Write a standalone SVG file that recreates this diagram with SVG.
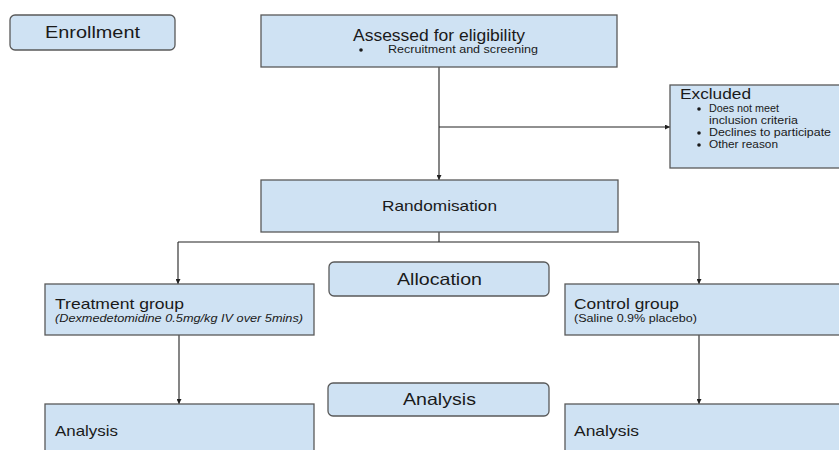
<svg xmlns="http://www.w3.org/2000/svg" width="839" height="450" viewBox="0 0 839 450">
<style>
.box{fill:#cfe2f3;stroke:#595959;stroke-width:1.3}
.t{font-family:"Liberation Sans",Arial,sans-serif;fill:#1a1a1a}
.ln{stroke:#222;stroke-width:1.1;fill:none}
</style>
<defs>
<marker id="ah" viewBox="0 0 8 8" refX="8" refY="4" markerWidth="5" markerHeight="5" orient="auto" markerUnits="userSpaceOnUse">
<path d="M0,0 L8,4 L0,8 z" fill="#222"/>
</marker>
</defs>
<rect width="839" height="450" fill="#fff"/>
<g id="connectors">
<path class="ln" d="M439,67 V180" marker-end="url(#ah)"/>
<path class="ln" d="M439,127 H670" marker-end="url(#ah)"/>
<path class="ln" d="M439,232 V242"/>
<path class="ln" d="M178,242 H699"/>
<path class="ln" d="M178,242 V284" marker-end="url(#ah)"/>
<path class="ln" d="M699,242 V284" marker-end="url(#ah)"/>
<path class="ln" d="M179,335 V404" marker-end="url(#ah)"/>
<path class="ln" d="M699,335 V404" marker-end="url(#ah)"/>
</g>
<g id="enrollment">
<rect class="box" x="10" y="15" width="165" height="35" rx="5"/>
<text class="t" x="45" y="38" font-size="16" textLength="95" lengthAdjust="spacingAndGlyphs">Enrollment</text>
</g>
<g id="assessed">
<rect class="box" x="261" y="15" width="356" height="52"/>
<text class="t" x="353" y="41" font-size="16" textLength="172" lengthAdjust="spacingAndGlyphs">Assessed for eligibility</text>
<circle cx="361" cy="50" r="1.8" fill="#1a1a1a"/>
<text class="t" x="388" y="53" font-size="10.5" textLength="150" lengthAdjust="spacingAndGlyphs">Recruitment and screening</text>
</g>
<g id="excluded">
<rect class="box" x="670" y="85" width="170" height="83"/>
<text class="t" x="680" y="99" font-size="14" textLength="71" lengthAdjust="spacingAndGlyphs">Excluded</text>
<g class="t" font-size="10.5">
<circle cx="699" cy="109" r="1.8" fill="#1a1a1a"/>
<text x="709" y="112" textLength="70" lengthAdjust="spacingAndGlyphs">Does not meet</text>
<text x="709" y="124" textLength="89" lengthAdjust="spacingAndGlyphs">inclusion criteria</text>
<circle cx="699" cy="133" r="1.8" fill="#1a1a1a"/>
<text x="709" y="136" textLength="122" lengthAdjust="spacingAndGlyphs">Declines to participate</text>
<circle cx="699" cy="145" r="1.8" fill="#1a1a1a"/>
<text x="709" y="148" textLength="69" lengthAdjust="spacingAndGlyphs">Other reason</text>
</g>
</g>
<g id="randomisation">
<rect class="box" x="261" y="180" width="357" height="52"/>
<text class="t" x="382" y="211" font-size="14.5" textLength="115" lengthAdjust="spacingAndGlyphs">Randomisation</text>
</g>
<g id="allocation">
<rect class="box" x="329" y="262" width="220" height="34" rx="5"/>
<text class="t" x="397" y="285" font-size="16.5" textLength="85" lengthAdjust="spacingAndGlyphs">Allocation</text>
</g>
<g id="treatment">
<rect class="box" x="45" y="284" width="269" height="51"/>
<text class="t" x="55" y="309" font-size="15" textLength="129" lengthAdjust="spacingAndGlyphs">Treatment group</text>
<text class="t" x="55" y="322" font-size="11" font-style="italic" textLength="248" lengthAdjust="spacingAndGlyphs">(Dexmedetomidine 0.5mg/kg IV over 5mins)</text>
</g>
<g id="control">
<rect class="box" x="565" y="284" width="276" height="51"/>
<text class="t" x="574" y="309" font-size="15" textLength="105" lengthAdjust="spacingAndGlyphs">Control group</text>
<text class="t" x="574" y="322" font-size="11" textLength="123" lengthAdjust="spacingAndGlyphs">(Saline 0.9% placebo)</text>
</g>
<g id="analysis-label">
<rect class="box" x="328" y="383" width="221" height="33" rx="5"/>
<text class="t" x="403" y="405" font-size="16.5" textLength="73" lengthAdjust="spacingAndGlyphs">Analysis</text>
</g>
<g id="analysis-treatment">
<rect class="box" x="45" y="404" width="269" height="60"/>
<text class="t" x="55" y="436" font-size="15" textLength="63" lengthAdjust="spacingAndGlyphs">Analysis</text>
</g>
<g id="analysis-control">
<rect class="box" x="565" y="404" width="276" height="60"/>
<text class="t" x="574" y="436" font-size="15" textLength="65" lengthAdjust="spacingAndGlyphs">Analysis</text>
</g>
</svg>
